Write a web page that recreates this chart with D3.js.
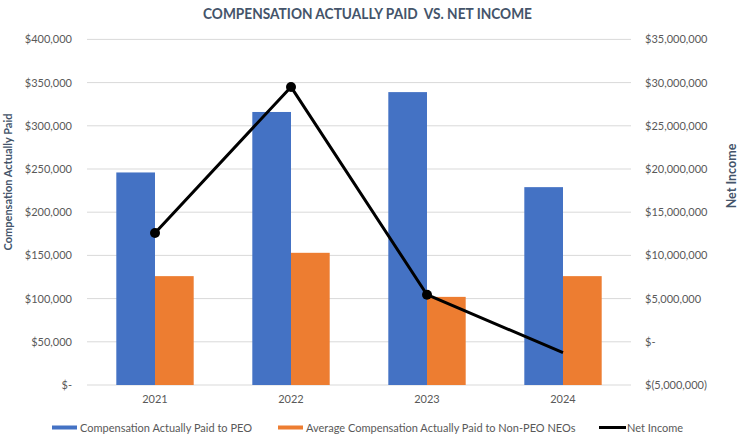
<!DOCTYPE html>
<html><head><meta charset="utf-8">
<script src="https://cdn.jsdelivr.net/npm/d3@7"></script>
<style>
html,body{margin:0;padding:0;background:#fff;}
text{font-family:Lato,"Open Sans",sans-serif;}
</style></head>
<body>
<svg id="chart" width="739" height="443"></svg>
<script>
const years = ["2021","2022","2023","2024"];
const peoComp = [246000, 316000, 339000, 229000];
const neoComp = [126000, 153000, 102000, 126000];
const netIncome = [12600000, 29500000, 5450000, -1250000];
const leftTicks = [0,50000,100000,150000,200000,250000,300000,350000,400000];
const rightTicks = [-5000000,0,5000000,10000000,15000000,20000000,25000000,30000000,35000000];
const seriesNames = ["Compensation Actually Paid to PEO","Average Compensation Actually Paid to Non-PEO NEOs","Net Income"];
const colors = ["#4472C4","#ED7D31","#000000"];

const svg = d3.select("#chart");
const L = 87, R = 631, T = 39.4, B = 385;

const x0 = d3.scaleBand().domain(years).range([L,R]).paddingInner(0.431).paddingOuter(0.2155);
const x1 = d3.scaleBand().domain(["peo","neo"]).range([0,x0.bandwidth()]);
const yL = d3.scaleLinear().domain([0,400000]).range([B,T]);
const yR = d3.scaleLinear().domain([-5000000,35000000]).range([B,T]);

// gridlines
svg.append("g").selectAll("line").data(leftTicks).join("line")
  .attr("x1",L).attr("x2",R).attr("y1",d=>yL(d)).attr("y2",d=>yL(d))
  .attr("stroke","#D9D9D9").attr("stroke-width",1);

// title
svg.append("text").attr("x",367.5).attr("y",18.5).attr("text-anchor","middle")
  .attr("font-size",15).attr("font-weight","bold").attr("fill","#44546A")
  .attr("xml:space","preserve").attr("textLength",329).attr("lengthAdjust","spacingAndGlyphs")
  .text("COMPENSATION ACTUALLY PAID  VS. NET INCOME");

const fmtL = d => d===0 ? "$-" : "$" + d3.format(",")(d);
const fmtR = d => d===0 ? "$-" : (d<0 ? "$(" + d3.format(",")(-d) + ")" : "$" + d3.format(",")(d));
const axL = d3.axisLeft(yL).tickValues(leftTicks).tickFormat(fmtL).tickSize(0).tickPadding(0);
const gL = svg.append("g").attr("transform",`translate(72,0)`).call(axL);
gL.select(".domain").remove();
gL.selectAll("text").attr("font-size",11).attr("fill","#595959").attr("font-family","Lato,sans-serif");

const axR = d3.axisRight(yR).tickValues(rightTicks).tickFormat(fmtR).tickSize(0).tickPadding(0);
const gR = svg.append("g").attr("transform",`translate(645,0)`).call(axR);
gR.select(".domain").remove();
gR.selectAll("text").attr("font-size",11).attr("fill","#595959").attr("font-family","Lato,sans-serif");

const axX = d3.axisBottom(x0).tickSize(0).tickPadding(0);
const gX = svg.append("g").attr("transform",`translate(0,${B+10})`).call(axX);
gX.select(".domain").remove();
gX.selectAll("text").attr("font-size",11).attr("fill","#595959").attr("font-family","Lato,sans-serif");

// axis titles
svg.append("text").attr("transform","translate(12,182) rotate(-90)").attr("text-anchor","middle")
  .attr("font-size",11).attr("font-weight","bold").attr("fill","#44546A").text("Compensation Actually Paid");
svg.append("text").attr("transform","translate(736,176) rotate(-90)").attr("text-anchor","middle")
  .attr("font-size",12.5).attr("font-weight","bold").attr("fill","#44546A").text("Net Income");

// bars
const rows = years.map((y,i)=>({year:y, peo:peoComp[i], neo:neoComp[i]}));
const g = svg.append("g");
g.selectAll("g").data(rows).join("g").attr("transform",d=>`translate(${x0(d.year)},0)`)
  .selectAll("rect").data(d=>[{k:"peo",v:d.peo},{k:"neo",v:d.neo}]).join("rect")
  .attr("x",d=>x1(d.k)).attr("width",x1.bandwidth())
  .attr("y",d=>yL(d.v)).attr("height",d=>yL(0)-yL(d.v))
  .attr("fill",d=>d.k==="peo"?colors[0]:colors[1]);

// line
const pts = years.map((y,i)=>({year:y, v:netIncome[i]}));
const line = d3.line().x(d=>x0(d.year)+x0.bandwidth()/2).y(d=>yR(d.v));
svg.append("path").datum(pts).attr("d",line).attr("fill","none").attr("stroke","#000").attr("stroke-width",3).attr("stroke-linejoin","round");
svg.append("g").selectAll("circle").data(pts.slice(0,3)).join("circle")
  .attr("cx",d=>x0(d.year)+x0.bandwidth()/2).attr("cy",d=>yR(d.v)).attr("r",5).attr("fill","#000");

// legend
const leg = svg.append("g");
const lx = [{sx:52, tx:80},{sx:278, tx:306},{sx:599, tx:627}];
seriesNames.forEach((n,i)=>{
  if(i<2){
    leg.append("rect").attr("x",lx[i].sx).attr("y",425.5).attr("width",25).attr("height",4).attr("fill",colors[i]);
  } else {
    leg.append("line").attr("x1",lx[i].sx).attr("x2",lx[i].sx+27).attr("y1",427.5).attr("y2",427.5).attr("stroke","#000").attr("stroke-width",3);
  }
  leg.append("text").attr("x",lx[i].tx).attr("y",431.5).attr("font-size",11).attr("fill","#595959").text(n);
});
</script>
</body></html>
